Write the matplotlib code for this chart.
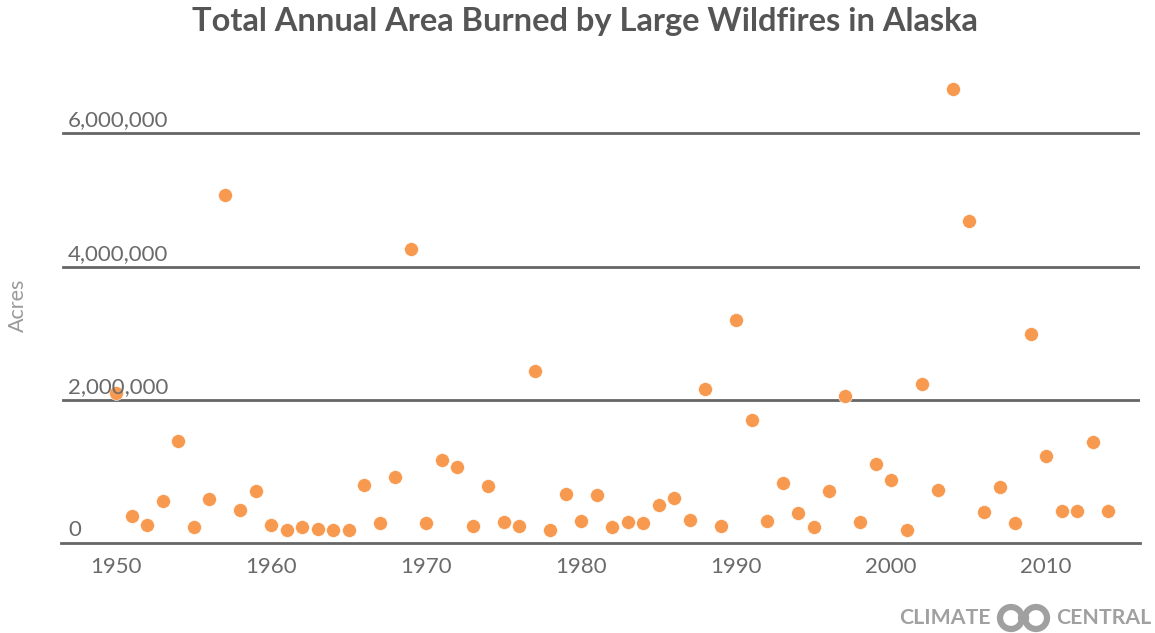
import matplotlib
matplotlib.use("Agg")
import matplotlib.pyplot as plt
from matplotlib.patches import Circle

years = list(range(1950, 2015))
acres_millions = [
    2.10, 0.26, 0.125, 0.485, 1.385, 0.09, 0.52, 5.07, 0.355, 0.63,
    0.13, 0.055, 0.09, 0.06, 0.055, 0.055, 0.72, 0.15, 0.845, 4.27,
    0.155, 1.105, 0.99, 0.11, 0.71, 0.175, 0.11, 2.435, 0.055, 0.59,
    0.185, 0.58, 0.095, 0.165, 0.155, 0.43, 0.525, 0.205, 2.17, 0.11,
    3.20, 1.70, 0.185, 0.75, 0.30, 0.09, 0.635, 2.06, 0.165, 1.045,
    0.80, 0.055, 2.245, 0.65, 6.67, 4.68, 0.325, 0.69, 0.15, 2.985,
    1.165, 0.33, 0.33, 1.365, 0.33,
]
acres = [v * 1e6 for v in acres_millions]

y_ticks = [0, 2_000_000, 4_000_000, 6_000_000]
y_tick_labels = ["0", "2,000,000", "4,000,000", "6,000,000"]
x_ticks = [1950, 1960, 1970, 1980, 1990, 2000, 2010]

title = "Total Annual Area Burned by Large Wildfires in Alaska"

W, H = 1155, 633
fig = plt.figure(figsize=(W / 100, H / 100), dpi=100)
ax = fig.add_axes([61 / W, (H - 542.7) / H, (1140 - 61) / W, (542.7 - 60) / H])

ymin, ymax = -140_000, 7_100_000
ax.set_xlim(1946.45, 2016.06)
ax.set_ylim(ymin, ymax)

grid_col = "#666666"
text_col = "#6a6a6a"
dot_col = "#F7994F"
label_font = "Lato"

for v in y_ticks[1:]:
    ax.axhline(v, xmin=2 / 1079, xmax=1, color=grid_col, lw=2.0, zorder=1)

ax.scatter(years, acres, s=100, color=dot_col, edgecolor="white", linewidths=0.4, zorder=3)

for s in ["top", "right", "left"]:
    ax.spines[s].set_visible(False)
ax.spines["bottom"].set_color(grid_col)
ax.spines["bottom"].set_linewidth(2.0)

ax.set_yticks([])
ax.set_xticks(x_ticks)
ax.tick_params(axis="x", length=0, pad=10, labelsize=16, labelcolor=text_col)
for lab in ax.get_xticklabels():
    lab.set_fontfamily(label_font)
    lab.set_fontweight("normal")

for v, lab in zip(y_ticks, y_tick_labels):
    yv = ymin if v == 0 else v
    ax.annotate(lab, xy=(0, yv), xycoords=("axes fraction", "data"),
                xytext=(5, 2), textcoords="offset points",
                ha="left", va="bottom", fontsize=16, color=text_col,
                family=label_font, fontweight="normal")

fig.text(18 / W, 1 - 305 / H, "Acres", rotation=90, ha="center", va="center",
         fontsize=15.5, color="#9a9a9a", family=label_font, fontweight="normal")

fig.text(585 / W, 1 - 22 / H, title, ha="center", va="center", fontsize=23.5,
         fontweight="bold", color="#555555", family="Lato")

# Climate Central logo
logo_col = "#a0a0a0"
fig.text(991 / W, 1 - 618 / H, "CLIMATE", ha="right", va="center", fontsize=15.3,
         fontweight="bold", color=logo_col, family="Lato")
fig.text(1056 / W, 1 - 618 / H, "CENTRAL", ha="left", va="center", fontsize=15.3,
         fontweight="bold", color=logo_col, family="Lato")
for cx in (1011, 1036):
    fig.patches.append(Circle((cx, H - 618), 11, transform=None, fill=False,
                              lw=4.5, edgecolor=logo_col))
fig.patches.append(Circle((1023.5, H - 618), 5, transform=None, color=logo_col))

fig.savefig("out.png", dpi=100, facecolor="white")
